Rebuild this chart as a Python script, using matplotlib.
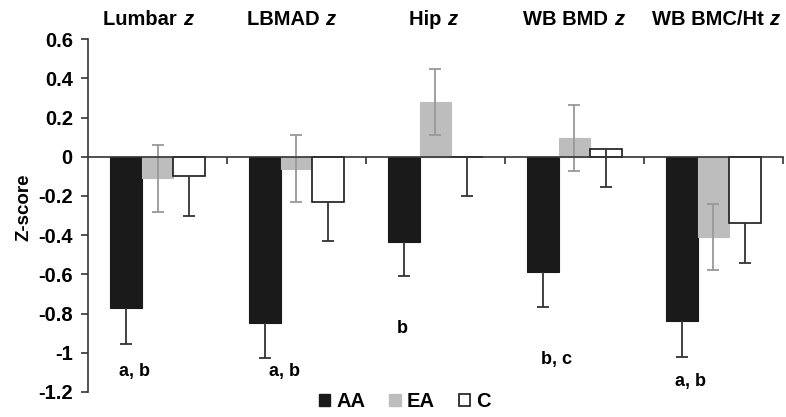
import matplotlib
matplotlib.use("Agg")
import matplotlib.pyplot as plt
import matplotlib.transforms as mtransforms
from matplotlib.patches import Patch

plt.rcParams['font.family'] = ['Liberation Sans', 'DejaVu Sans']
plt.rcParams['font.weight'] = 'bold'

categories = ["Lumbar", "LBMAD", "Hip", "WB BMD", "WB BMC/Ht"]
groups = ["AA", "EA", "C"]
aa_vals = [-0.77, -0.85, -0.435, -0.59, -0.84]
aa_err = [0.185, 0.175, 0.175, 0.175, 0.18]
ea_vals = [-0.11, -0.06, 0.28, 0.095, -0.41]
ea_err = [0.17, 0.17, 0.17, 0.17, 0.17]
c_vals = [-0.10, -0.23, 0.0, 0.04, -0.34]
c_err = [0.20, 0.20, 0.20, 0.195, 0.20]
sig_labels = ["a, b", "a, b", "b", "b, c", "a, b"]
sig_y = [-1.095, -1.095, -0.875, -1.035, -1.145]
sig_dx = [0.06, 0.14, -0.01, 0.1, 0.06]

fig = plt.figure(figsize=(7.86, 4.17), dpi=100)
ax = fig.add_axes([0.112, 0.06, 0.884, 0.846])

w = 0.228
x = list(range(len(categories)))
xa = [i - w for i in x]
xe = x
xc = [i + w for i in x]

ax.bar(xa, aa_vals, width=w, color='#1a1a1a', edgecolor='#1a1a1a', linewidth=0.8, zorder=2)
ax.bar(xe, ea_vals, width=w, color='#bdbdbd', edgecolor='#bdbdbd', linewidth=0.8, zorder=2)
ax.bar(xc, c_vals, width=w, color='white', edgecolor='#1a1a1a', linewidth=1.2, zorder=2)


def one_sided(xs, vals, errs, color):
    eb = ax.errorbar(xs, vals, yerr=[errs, [0] * len(errs)], fmt='none', ecolor=color,
                     elinewidth=1.3, capsize=4, capthick=1.3, zorder=3)
    # hide the cap sitting at the bar end (zero-length side)
    for cl in eb[1]:
        yd = list(cl.get_ydata())
        if all(abs(a - b) < 1e-9 for a, b in zip(yd, vals)):
            cl.set_visible(False)


one_sided(xa, aa_vals, aa_err, '#333333')
ax.errorbar(xe, ea_vals, yerr=[ea_err, ea_err], fmt='none', ecolor='#999999',
            elinewidth=1.3, capsize=4, capthick=1.3, zorder=3)
one_sided(xc, c_vals, c_err, '#333333')

ax.set_xlim(-0.5, 4.5)
ax.set_ylim(-1.2, 0.6)
ax.set_yticks([0.6, 0.4, 0.2, 0, -0.2, -0.4, -0.6, -0.8, -1, -1.2])
ax.set_yticklabels(["0.6", "0.4", "0.2", "0", "-0.2", "-0.4", "-0.6", "-0.8", "-1", "-1.2"],
                   fontsize=14.5, fontweight='bold')
ax.set_xticks([0.5, 1.5, 2.5, 3.5, 4.5])
ax.set_xticklabels([])
ax.tick_params(axis='x', direction='out', length=5, width=1.2, color='#333333')
ax.tick_params(axis='y', direction='out', length=5, width=1.2, color='#333333', pad=6)

for s in ['top', 'right']:
    ax.spines[s].set_visible(False)
ax.spines['bottom'].set_position(('data', 0))
ax.spines['bottom'].set_linewidth(1.2)
ax.spines['bottom'].set_color('#333333')
ax.spines['bottom'].set_zorder(4)
ax.spines['left'].set_linewidth(1.2)
ax.spines['left'].set_color('#333333')

ax.set_ylabel("Z-score", fontsize=13.5, fontweight='bold')
ax.yaxis.set_label_coords(-0.08, 0.524)

# category titles with italic "z", centred at measured positions
trans = mtransforms.blended_transform_factory(ax.transData, fig.transFigure)
title_cx = [-0.068, 0.96, 1.98, 2.996, 4.018]
fig.canvas.draw()
renderer = fig.canvas.get_renderer()
for i, cat in enumerate(categories):
    t1 = ax.text(title_cx[i], 0.953, cat + " ", transform=trans, ha='left', va='center',
                 fontsize=14.5, fontweight='bold')
    t2 = ax.text(title_cx[i], 0.953, "z", transform=trans, ha='left', va='center',
                 fontsize=14.5, fontweight='bold', fontstyle='italic')
    w1 = t1.get_window_extent(renderer).width
    w2 = t2.get_window_extent(renderer).width
    tot = w1 + w2
    t1.set_transform(trans + mtransforms.ScaledTranslation(-tot / 2 / 100, 0, fig.dpi_scale_trans))
    t2.set_transform(trans + mtransforms.ScaledTranslation((-tot / 2 + w1) / 100, 0, fig.dpi_scale_trans))

for i, lab in enumerate(sig_labels):
    ax.text(i - w + sig_dx[i], sig_y[i], lab, ha='center', va='center',
            fontsize=13, fontweight='bold')

handles = [Patch(facecolor='#1a1a1a', edgecolor='#1a1a1a'),
           Patch(facecolor='#bdbdbd', edgecolor='#bdbdbd'),
           Patch(facecolor='white', edgecolor='#1a1a1a', linewidth=1.2)]
fig.legend(handles, groups, loc='center', bbox_to_anchor=(0.515, 0.036), ncol=3,
           frameon=False, handlelength=0.55, handleheight=0.55,
           handletextpad=0.3, columnspacing=1.2, prop={'weight': 'bold', 'size': 14.5})

fig.savefig("out.png", dpi=100)
